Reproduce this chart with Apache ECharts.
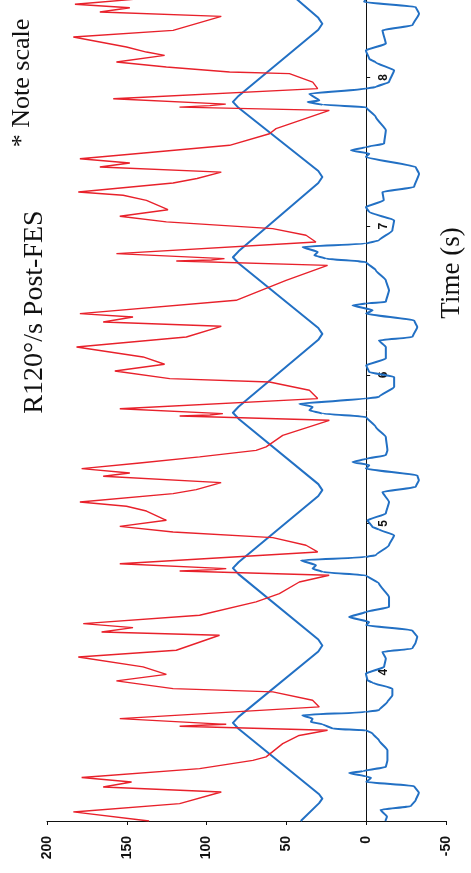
<!DOCTYPE html>
<html>
<head>
<meta charset="utf-8">
<script src="https://cdn.jsdelivr.net/npm/echarts@6/dist/echarts.min.js"></script>
<style>
  html, body { margin: 0; padding: 0; background: #ffffff; }
  #chart { width: 471px; height: 873px; }
</style>
</head>
<body>
<div id="chart"></div>
<script>
// Tick values of both axes
const valueTicks = [-50, 0, 50, 100, 150, 200];
const timeTicks = [4, 5, 6, 7, 8];
const timeRange = [3, 8.52];

// Torque trace (red): time in s, value
const torqueTime = [
  3.000, 3.061, 3.117, 3.195, 3.229, 3.262, 3.292, 3.352, 3.408, 3.431, 3.520, 3.575, 3.610,
  3.637, 3.645, 3.650, 3.688, 3.767, 3.812, 3.868, 3.890, 3.942, 3.986, 4.036, 4.103, 4.148,
  4.249, 4.271, 4.300, 4.327, 4.383, 4.473, 4.529, 4.607, 4.652, 4.681, 4.690, 4.697, 4.730,
  4.809, 4.854, 4.905, 4.943, 4.981, 5.022, 5.084, 5.116, 5.145, 5.201, 5.228, 5.275, 5.318,
  5.340, 5.369, 5.407, 5.448, 5.492, 5.515, 5.593, 5.694, 5.723, 5.730, 5.739, 5.772, 5.840,
  5.896, 5.952, 5.974, 6.026, 6.071, 6.120, 6.187, 6.254, 6.326, 6.355, 6.389, 6.411, 6.501,
  6.635, 6.736, 6.765, 6.772, 6.781, 6.815, 6.893, 6.938, 6.983, 7.028, 7.066, 7.110, 7.173,
  7.207, 7.229, 7.290, 7.320, 7.363, 7.397, 7.424, 7.453, 7.490, 7.543, 7.621, 7.655, 7.778,
  7.800, 7.810, 7.820, 7.856, 7.924, 7.968, 8.025, 8.036, 8.070, 8.103, 8.148, 8.170, 8.204,
  8.271, 8.316, 8.410, 8.439, 8.468, 8.491, 8.530
];
const torqueValue = [
  136, 183.5, 116.9, 90.8, 164.8, 147, 178.3, 104.4, 71, 62.7, 52.3, 42, 24.2,
  116.9, 100, 87.7, 154.4, 29.4, 33.6, 58.5, 121, 156.5, 125.2, 139.8, 180.4, 119,
  91.9, 165.8, 146.1, 177.3, 104.4, 69, 54.4, 41.9, 23.2, 116.9, 95, 87.7, 154.4,
  30.4, 37.7, 58.5, 121, 154.4, 125.2, 137.7, 150.2, 179.4, 121, 106.5, 90.9, 164.8,
  148.1, 178.3, 141.9, 104.4, 69, 62.7, 52.3, 23.1, 116.9, 98, 89.8, 154.4, 30.4,
  35.6, 60.6, 123.1, 157.5, 126.3, 139.8, 181.5, 112.7, 90.8, 164.8, 146.1, 179.4, 81.5,
  50.2, 24.2, 119, 97, 88.8, 156.5, 31.5, 37.7, 58.6, 125.2, 154.4, 124.2, 137.7,
  152.3, 180.4, 121, 106, 90.8, 166.9, 148.1, 179.4, 141, 85.6, 60.6, 56.5, 23.1,
  117, 98, 88, 158.5, 30.4, 33.5, 48.1, 85.6, 125.2, 156.5, 126.3, 137.7, 150.2,
  183.5, 121, 90.8, 166.9, 148.1, 182.5, 140
];

// Position trace (blue triangle wave, slightly rounded turns)
const positionTime = [
  3.000, 3.120, 3.150, 3.180, 3.620, 3.660, 3.700, 4.140, 4.180, 4.220, 4.660, 4.700, 4.740,
  5.185, 5.225, 5.265, 5.705, 5.745, 5.785, 6.235, 6.275, 6.315, 6.750, 6.790, 6.830,
  7.290, 7.330, 7.370, 7.795, 7.835, 7.875, 8.320, 8.360, 8.400, 8.530
];
const positionValue = [
  41, 29.5, 27.5, 29.5, 80, 83.5, 80, 30, 27.5, 30, 80, 83.5, 80,
  30, 27.5, 30, 80, 83.5, 80, 30, 27.5, 30, 80, 83.5, 80,
  30, 27.5, 30, 80, 83.5, 80, 30, 27.5, 30, 44
];

// Velocity trace (blue, around zero)
const velocityTime = [
  3.000, 3.030, 3.075, 3.100, 3.140, 3.190, 3.235, 3.262, 3.290, 3.300, 3.323, 3.335, 3.363,
  3.408, 3.476, 3.543, 3.588, 3.610, 3.621, 3.650, 3.666, 3.688, 3.711, 3.733, 3.745, 3.801,
  3.845, 3.890, 3.930, 3.946, 3.991, 4.036, 4.092, 4.137, 4.159, 4.200, 4.238, 4.282, 4.316,
  4.338, 4.372, 4.406, 4.439, 4.506, 4.596, 4.652, 4.674, 4.697, 4.719, 4.753, 4.775, 4.787,
  4.854, 4.921, 4.960, 4.977, 5.022, 5.067, 5.145, 5.212, 5.246, 5.291, 5.324, 5.369, 5.392,
  5.414, 5.435, 5.459, 5.492, 5.582, 5.649, 5.716, 5.739, 5.761, 5.784, 5.806, 5.840, 5.851,
  5.918, 5.985, 6.019, 6.064, 6.109, 6.187, 6.232, 6.254, 6.322, 6.366, 6.411, 6.434, 6.467,
  6.480, 6.490, 6.568, 6.635, 6.703, 6.758, 6.781, 6.803, 6.826, 6.860, 6.882, 6.904, 6.971,
  7.039, 7.094, 7.128, 7.173, 7.229, 7.263, 7.352, 7.397, 7.464, 7.487, 7.509, 7.531, 7.554,
  7.644, 7.733, 7.800, 7.815, 7.834, 7.845, 7.890, 7.924, 7.935, 7.968, 8.047, 8.100, 8.125,
  8.181, 8.226, 8.316, 8.350, 8.428, 8.473, 8.506, 8.530
];
const velocityValue = [
  -12, -13, -9, -28, -31, -33, -30, 0, -3, 0, 10.7, 2, -12.3,
  -13.3, -13.3, -8, -4, 0, 21, 27.3, 34.6, 33.6, 40, 0, -8, -13.3,
  -16.4, -16.4, -4, -0.8, 0.2, -11.2, -12.3, -10.2, -28.9, -31, -32, -28.9, 0,
  -1.8, 10.7, 0.2, -14.3, -14.3, -8, 0.2, 27.3, 33.6, 31.5, 40.8, 0.2, -6,
  -14.3, -17.5, -8, -3.9, -0.8, -12.3, -14.3, -10.2, -31, -33, -32, 0.2, -1.9,
  8.6, 0, -12.3, -13.3, -12.3, -6, 0, 27.3, 35.6, 33.6, 41.9, 0, -8,
  -17.5, -17.5, -1.8, 0, -12.3, -12.3, -8, -29, -32, -30, 0, -4, 8.6,
  0, -12.3, -14.3, -12.3, -6, 0.2, 25.2, 32.5, 30.4, 39.8, 0.2, -8, -16.4,
  -17.5, -1.9, 0.2, -11, -10.2, -30, -33.1, -31, 0.2, -1.9, 9.6, 0.2, -11.2,
  -12.3, -6, 0.2, 27, 36.7, 29.4, 35.6, 0, -6, -14.3, -17.5, -6, -1.9,
  0.2, -12.3, -10.2, -29, -33.1, -31, 1.3, 0
];

// [value, time] pairs: values run along the horizontal axis, time runs up
function pairs(times, values) {
  return times.map((t, i) => [values[i], t]);
}

const serifFont = '"Liberation Serif", "Times New Roman", Times, serif';
const gridLeft = 47;
const gridRight = 25;
const chartWidth = 471;
const chart = echarts.init(document.getElementById('chart'), null, { renderer: 'canvas' });

// The time axis sits on the zero value of the horizontal axis (inverted scale)
const plotWidth = chartWidth - gridLeft - gridRight;
const zeroFromRight = plotWidth * (0 - valueTicks[0]) / (valueTicks[valueTicks.length - 1] - valueTicks[0]);

chart.setOption({
  animation: false,
  backgroundColor: '#ffffff',
  grid: { left: gridLeft, right: gridRight, top: 0, bottom: 52, containLabel: false },
  xAxis: {
    type: 'value',
    inverse: true,
    min: valueTicks[0],
    max: valueTicks[valueTicks.length - 1],
    interval: valueTicks[1] - valueTicks[0],
    axisLine: { show: true, onZero: false, lineStyle: { color: '#111', width: 1 } },
    axisTick: { show: true, length: 4, lineStyle: { color: '#111', width: 1 } },
    axisLabel: {
      rotate: 90, margin: 15, fontSize: 14, fontWeight: 'bold',
      fontFamily: '"Liberation Sans", Arial, sans-serif', color: '#111',
      formatter: v => (valueTicks.includes(v) ? String(v) : '')
    },
    splitLine: { show: false }
  },
  yAxis: {
    type: 'value',
    position: 'right',
    offset: -zeroFromRight,
    min: timeRange[0],
    max: timeRange[1],
    interval: 1,
    axisLine: { show: true, onZero: false, lineStyle: { color: '#111', width: 1 } },
    axisTick: { show: true, length: 4, lineStyle: { color: '#111', width: 1 } },
    axisLabel: {
      rotate: 90, margin: 11, fontSize: 12, fontWeight: 'bold',
      fontFamily: '"Liberation Sans", Arial, sans-serif', color: '#111',
      showMinLabel: false, showMaxLabel: false,
      formatter: v => (timeTicks.includes(v) ? String(v) : '')
    },
    splitLine: { show: false }
  },
  series: [
    {
      name: 'Position', type: 'line', symbol: 'none', smooth: false,
      data: pairs(positionTime, positionValue),
      lineStyle: { color: '#2270c4', width: 2, join: 'round' }, z: 2
    },
    {
      name: 'Velocity', type: 'line', symbol: 'none',
      smooth: 0.15, smoothMonotone: 'y',
      data: pairs(velocityTime, velocityValue),
      lineStyle: { color: '#2270c4', width: 2, join: 'round' }, z: 2
    },
    {
      name: 'Torque', type: 'line', symbol: 'none', smooth: false,
      data: pairs(torqueTime, torqueValue),
      lineStyle: { color: '#e8212b', width: 1.4 }, z: 3
    }
  ],
  graphic: [
    {
      type: 'text', x: 35, y: 312, rotation: Math.PI / 2,
      style: {
        text: 'R120°/s Post-FES', font: '28px ' + serifFont, fill: '#111',
        textAlign: 'center', textVerticalAlign: 'middle', align: 'center', verticalAlign: 'middle'
      }
    },
    {
      type: 'text', x: 452, y: 273, rotation: Math.PI / 2,
      style: {
        text: 'Time (s)', font: '27px ' + serifFont, fill: '#111',
        textAlign: 'center', textVerticalAlign: 'middle', align: 'center', verticalAlign: 'middle'
      }
    },
    {
      type: 'text', x: 22, y: 83, rotation: Math.PI / 2,
      style: {
        text: '* Note scale', font: '26px ' + serifFont, fill: '#111',
        textAlign: 'center', textVerticalAlign: 'middle', align: 'center', verticalAlign: 'middle'
      }
    }
  ]
});
</script>
</body>
</html>
